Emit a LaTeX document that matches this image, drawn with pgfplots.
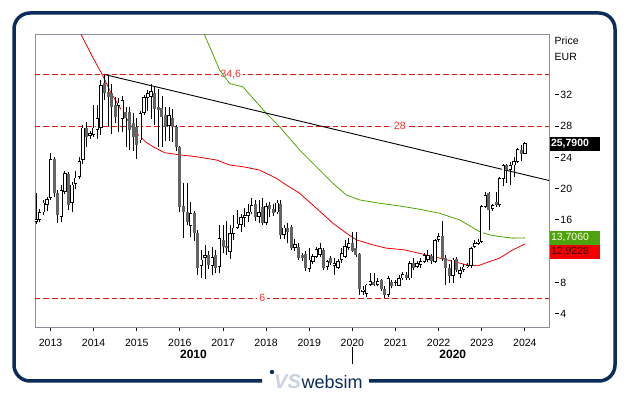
\documentclass[border=0pt]{standalone}
\usepackage{pgfplots}
\pgfplotsset{compat=1.18}
\usepackage{pgfplotstable}
\usepackage{fontspec}
\setmainfont{Liberation Sans}
\definecolor{frameblue}{RGB}{12,44,92}
\definecolor{axgray}{RGB}{140,140,155}
\definecolor{maGreen}{RGB}{80,165,0}
\definecolor{maRed}{RGB}{240,0,0}
\definecolor{lvlRed}{RGB}{225,20,20}
\definecolor{lblRed}{RGB}{255,45,45}
\definecolor{bodyGray}{RGB}{100,100,100}
\definecolor{boxGreen}{RGB}{76,163,13}
\definecolor{boxRed}{RGB}{245,0,0}
\definecolor{logoGray}{RGB}{200,210,225}

\pgfplotstableread{
m o h l c
-4 15.8 19.4 15.5 16.1
-3 16.0 17.4 15.7 17.0
-2 17.0 18.6 16.6 18.2
-1 18.0 18.9 17.2 18.6
0 18.8 24.6 18.6 23.8
1 23.8 24.0 18.9 19.5
2 19.5 19.8 15.6 16.6
3 16.4 20.5 15.7 19.8
4 19.6 22.3 19.3 22.0
5 21.9 22.2 17.3 17.9
6 18.2 20.9 17.0 20.5
7 20.6 22.3 20.0 21.4
8 21.5 24.0 21.2 23.5
9 23.7 28.1 23.2 27.8
10 27.8 28.5 25.3 26.6
11 26.8 27.4 26.4 27.1
12 26.9 30.7 26.6 27.8
13 27.5 30.7 26.4 29.0
14 27.8 33.9 26.9 33.2
15 33.5 34.6 31.4 32.2
16 32.4 34.4 28.0 31.7
17 32.2 33.4 27.0 30.5
18 30.7 31.7 28.4 29.2
19 30.6 31.6 27.2 31.0
20 29.0 31.9 27.2 31.3
21 29.8 30.4 25.3 29.0
22 29.8 30.5 24.9 27.5
23 28.4 29.7 24.8 26.6
24 27.9 29.0 23.8 25.6
25 26.2 30.0 25.9 29.7
26 29.7 32.0 29.4 31.7
27 31.7 32.6 30.0 32.2
28 31.8 33.4 28.9 32.5
29 32.2 33.0 28.1 30.2
30 30.4 32.7 25.3 30.1
31 30.3 31.9 25.3 29.2
32 29.4 30.5 26.1 27.9
33 28.1 30.5 26.1 29.4
34 29.1 30.2 26.0 27.9
35 27.9 28.1 24.8 25.3
36 25.3 25.5 17.0 17.7
37 17.8 20.7 13.7 17.0
38 17.0 20.7 15.4 15.7
39 15.3 18.3 13.8 16.9
40 16.9 17.2 13.3 14.3
41 14.3 14.7 9.0 9.9
42 10.1 12.2 8.6 10.9
43 11.2 12.8 8.5 11.5
44 11.5 12.0 9.7 10.2
45 10.1 12.5 9.0 11.2
46 11.5 12.2 9.2 9.9
47 10.0 15.4 9.2 13.7
48 13.4 15.3 11.8 12.5
49 12.7 15.9 11.5 12.4
50 11.9 15.4 11.0 14.3
51 14.2 16.6 13.4 15.0
52 15.0 17.3 14.9 15.5
53 15.4 16.7 14.5 16.3
54 16.3 17.5 15.1 16.6
55 16.5 18.0 15.7 17.0
56 17.0 18.8 16.7 17.9
57 18.0 18.5 15.9 16.4
58 16.4 18.6 15.6 17.0
59 17.7 18.8 15.4 15.6
60 15.6 18.2 15.4 17.7
61 17.9 18.3 16.4 17.4
62 17.4 18.0 16.5 16.9
63 17.0 18.5 16.7 18.2
64 18.0 18.6 13.5 14.1
65 14.1 15.3 13.6 15.0
66 15.0 15.6 13.0 14.4
67 15.1 15.3 12.2 12.4
68 12.4 13.6 12.0 12.9
69 12.6 13.1 10.9 11.1
70 11.5 11.8 10.7 11.1
71 11.7 12.0 9.5 9.8
72 9.8 12.4 9.4 10.9
73 10.7 11.7 10.4 11.3
74 11.3 12.6 11.1 12.2
75 11.5 13.0 11.3 12.4
76 12.2 12.4 9.6 9.8
77 10.0 10.9 9.6 10.7
78 11.1 11.4 10.2 10.5
79 10.1 11.1 9.0 10.5
80 9.9 11.0 9.7 10.7
81 10.9 12.4 10.5 11.7
82 11.3 13.4 11.1 12.6
83 12.4 13.7 12.2 13.0
84 13.0 14.5 11.9 12.0
85 12.4 14.5 11.3 11.5
86 11.7 11.8 6.4 7.1
87 6.85 7.5 6.4 7.06
88 6.6 7.8 6.2 7.7
89 7.7 9.2 7.5 8.1
90 8.1 9.2 7.5 7.7
91 7.7 8.6 7.5 8.1
92 8.3 8.5 6.9 7.1
93 7.1 7.5 6.0 6.4
94 6.4 8.8 6.2 8.55
95 8.1 8.3 7.3 7.5
96 7.9 8.3 7.6 8.0
97 7.6 9.0 7.5 8.55
98 8.55 9.3 8.3 9.0
99 9.0 9.4 8.3 8.55
100 8.55 10.7 8.3 10.5
101 10.5 11.1 9.6 9.8
102 10.0 10.7 9.8 10.5
103 10.3 11.1 9.8 10.7
104 10.7 11.8 10.5 11.5
105 10.9 12.2 10.6 11.5
106 11.4 11.6 10.4 10.7
107 10.7 13.6 10.5 13.4
108 13.5 14.3 13.2 13.9
109 14.0 15.9 10.8 11.0
110 11.1 11.5 7.7 9.8
111 9.8 10.4 7.9 8.8
112 8.9 11.1 7.9 10.9
113 11.0 11.2 9.4 9.6
114 9.1 10.0 8.6 9.6
115 9.6 10.3 9.4 10.0
116 10.0 10.5 9.8 10.2
117 10.1 12.6 9.9 12.4
118 12.6 13.4 12.4 13.0
119 13.0 13.5 12.8 13.2
120 13.2 17.9 13.0 17.7
121 17.7 19.6 17.5 19.2
122 19.4 19.6 14.7 17.3
123 17.4 18.1 17.2 17.9
124 18.3 19.6 17.7 17.9
125 17.9 21.5 17.7 21.3
126 21.3 23.2 20.3 23.0
127 23.0 23.2 20.7 22.4
128 22.4 23.4 20.5 23.0
129 23.0 24.1 21.5 23.5
130 23.5 25.2 23.3 25.0
131 25.0 25.6 23.5 24.5
132 24.5 26.0 24.4 25.79
}\candles

\begin{document}
\begin{tikzpicture}[x=1pt,y=1pt]
\fill[white] (0,0) rectangle (629,395);
\begin{axis}[
  at={(35pt,67.3pt)}, anchor=south west,
  scale only axis, width=514pt, height=293.4pt,
  xmin=2012.64, xmax=2024.56, ymin=2.21, ymax=39.76,
  axis line style={axgray, line width=0.9pt},
  xtick={2013,2014,2015,2016,2017,2018,2019,2020,2021,2022,2023,2024},
  xticklabels={2013,2014,2015,2016,2017,2018,2019,2020,2021,2022,2023,2024},
  xtick pos=left, tick align=outside,
  major tick length=3.5pt,
  xtick style={black, line width=0.8pt},
  xticklabel style={font=\fontsize{10.5}{12}\selectfont, text=black, inner sep=0pt, anchor=north, yshift=-7.5pt},
  ytick={4,8,16,20,24,28,32},
  ytick pos=right, yticklabel pos=right,
  ytick style={draw=none},
  /pgf/number format/assume math mode=true,
  yticklabel={\rule[3.4pt]{3.3pt}{0.8pt}\hspace{1.8pt}\pgfmathprintnumber{\tick}},
  yticklabel style={font=\fontsize{10.5}{12}\selectfont, text=black, inner sep=0pt, anchor=west, xshift=2.7pt},
]
% horizontal levels
\addplot[lvlRed, line width=0.9pt, dash pattern=on 5.5pt off 3pt, forget plot] coordinates {(2012.64,34.6) (2024.56,34.6)};
\addplot[lvlRed, line width=0.9pt, dash pattern=on 5.5pt off 3pt, forget plot] coordinates {(2012.64,28) (2024.56,28)};
\addplot[lvlRed, line width=0.9pt, dash pattern=on 5.5pt off 3pt, forget plot] coordinates {(2012.64,6) (2024.56,6)};
\node[fill=white, text=lblRed, inner sep=2pt, font=\fontsize{10.5}{11}\selectfont] at (axis cs:2017.18,34.6) {34,6};
\node[fill=white, text=lblRed, inner sep=2pt, font=\fontsize{10.5}{11}\selectfont] at (axis cs:2021.10,28) {28};
\node[fill=white, text=lblRed, inner sep=2pt, font=\fontsize{10.5}{11}\selectfont] at (axis cs:2017.91,6) {6};
% moving averages
\addplot[maRed, line width=0.8pt, forget plot] coordinates {
(2013.68,40.3) (2013.72,39.6) (2013.99,36.7) (2014.2,34.6) (2014.4,32.3) (2014.65,30.0)
(2014.93,27.5) (2015.2,26.0) (2015.4,25.3) (2015.65,24.6) (2016.0,24.33) (2016.38,24.09)
(2016.85,23.67) (2017.155,23.03) (2017.464,22.81) (2017.85,22.38) (2018.237,21.33)
(2018.469,20.47) (2018.778,19.41) (2019.165,17.50) (2019.549,15.58) (2019.86,14.31)
(2020.092,13.45) (2020.476,12.81) (2020.787,12.39) (2021.211,12.17) (2021.635,11.62)
(2022.254,10.81) (2022.641,10.26) (2022.91,10.13) (2023.181,10.68) (2023.413,11.11)
(2023.721,12.17) (2024.0,12.92)};
\addplot[maGreen, line width=0.8pt, forget plot] coordinates {
(2016.53,40.3) (2016.576,39.63) (2016.924,35.16) (2017.155,33.46) (2017.464,33.03)
(2018.006,29.63) (2018.314,27.92) (2018.778,24.94) (2019.241,22.39) (2019.433,21.33)
(2019.549,20.69) (2019.86,19.20) (2020.168,18.56) (2020.632,18.14) (2021.095,17.79)
(2021.558,17.37) (2022.022,16.86) (2022.485,16.01) (2022.949,14.51) (2023.181,14.09)
(2023.413,13.87) (2023.721,13.67) (2024.0,13.706)};
% trend line
\addplot[black, line width=0.9pt, forget plot] coordinates {(2014.26,34.6) (2024.56,21.05)};
% wicks
\addplot[draw=none, mark=none, forget plot,
  error bars/.cd, y dir=plus, y explicit, error mark=none,
  error bar style={draw=black, line width=0.8pt, solid}]
  table[x expr=2013+\thisrow{m}/12, y=l, y error plus expr=\thisrow{h}-\thisrow{l}] {\candles};
% filled (falling) bodies
\addplot[draw=none, mark=none, forget plot, restrict y to domain=0:100, unbounded coords=discard,
  error bars/.cd, y dir=plus, y explicit, error mark=none,
  error bar style={draw=bodyGray, line width=3.0pt, solid}]
  table[x expr=2013+\thisrow{m}/12,
        y expr={\thisrow{c}<\thisrow{o} ? \thisrow{c} : -1000},
        y error plus expr={max(\thisrow{o}-\thisrow{c},0.12)}] {\candles};
% hollow (rising) bodies: outline
\addplot[draw=none, mark=none, forget plot, restrict y to domain=0:100, unbounded coords=discard,
  error bars/.cd, y dir=plus, y explicit, error mark=none,
  error bar style={draw=black, line width=3.4pt, solid}]
  table[x expr=2013+\thisrow{m}/12,
        y expr={\thisrow{c}>=\thisrow{o} ? \thisrow{o}-0.03 : -1000},
        y error plus expr={max(\thisrow{c}-\thisrow{o},0.15)+0.06}] {\candles};
% hollow bodies: white inside
\addplot[draw=none, mark=none, forget plot, restrict y to domain=0:100, unbounded coords=discard,
  error bars/.cd, y dir=plus, y explicit, error mark=none,
  error bar style={draw=white, line width=2.0pt, solid}]
  table[x expr=2013+\thisrow{m}/12,
        y expr={\thisrow{c}>=\thisrow{o} ? \thisrow{o}+0.08 : -1000},
        y error plus expr={max(\thisrow{c}-\thisrow{o}-0.16,0)}] {\candles};
\end{axis}
% right side labels
\node[anchor=west, inner sep=0pt, font=\fontsize{10.5}{12}\selectfont] at (554.5,354) {Price};
\node[anchor=west, inner sep=0pt, font=\fontsize{10.5}{12}\selectfont] at (554.5,338) {EUR};
\node[fill=black, text=white, anchor=west, inner sep=0pt, minimum height=13.4pt, text width=50pt, align=left, font=\bfseries\fontsize{10.5}{12}\selectfont] at (550,251) {\hspace{0.8pt}25,7900};
\node[fill=boxGreen, text={rgb,255:red,250;green,250;blue,225}, anchor=west, inner sep=0pt, minimum height=13.6pt, text width=50pt, align=left, font=\fontsize{10.5}{11}\selectfont] at (550,157.2) {\hspace{0.8pt}13,7060};
\node[fill=boxRed, text={rgb,255:red,60;green,0;blue,0}, anchor=west, inner sep=0pt, minimum height=13.6pt, text width=50pt, align=left, font=\fontsize{10.5}{11}\selectfont] at (550,143.2) {\hspace{0.8pt}12,9228};
% decade labels
\node[font=\bfseries\fontsize{12}{13}\selectfont] at (193.5,41) {2010};
\node[font=\bfseries\fontsize{12}{13}\selectfont] at (452.8,41) {2020};
\draw[black, line width=0.9pt] (352.8,48) -- (352.8,31);
% frame
\draw[frameblue, line width=3.5pt, rounded corners=16pt] (369,14) -- (615,14) -- (615,382) -- (14,382) -- (14,14) -- (262,14);
% logo
\fill[frameblue] (272,23) circle (2.2pt);
\node[anchor=west, inner sep=0pt, text=logoGray, font=\bfseries\itshape\fontsize{20}{20}\selectfont] at (274,13) {VS};
\node[anchor=west, inner sep=0pt, text=frameblue, font=\fontsize{18}{18}\selectfont] at (301.5,13) {websim};
\pgfresetboundingbox
\useasboundingbox (0,0) rectangle (629,395);
\end{tikzpicture}
\end{document}
